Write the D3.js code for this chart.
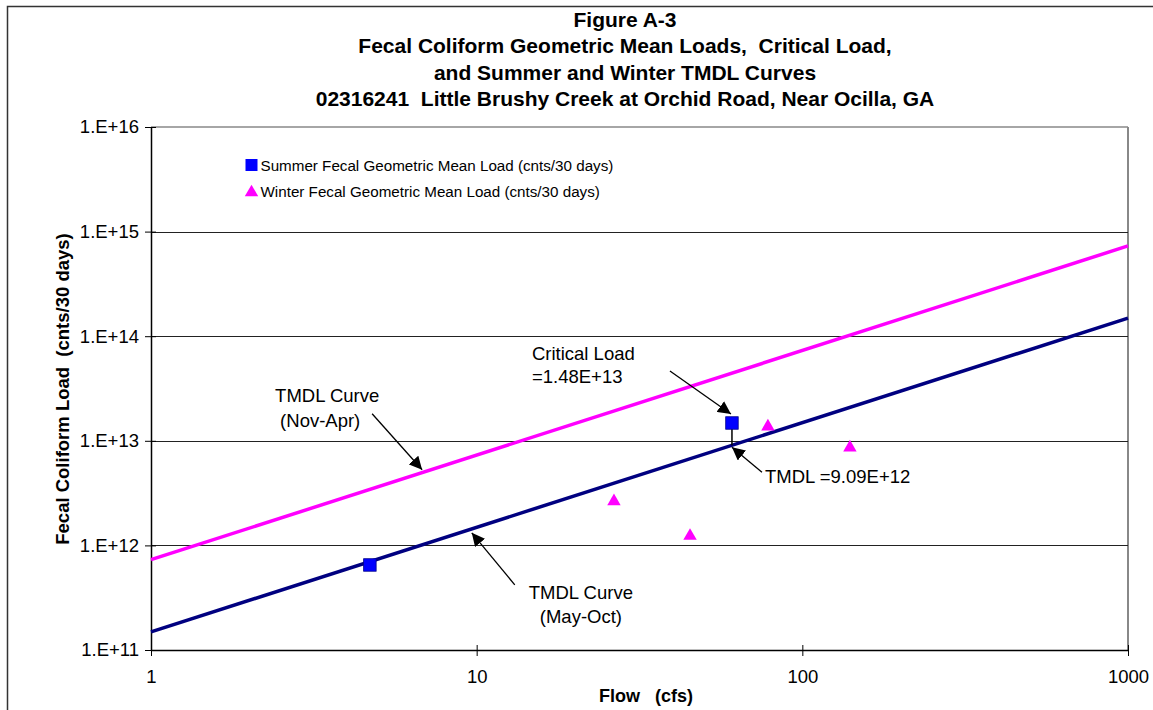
<!DOCTYPE html>
<html>
<head>
<meta charset="utf-8">
<script src="https://cdn.jsdelivr.net/npm/d3@7"></script>
<style>
  body { margin: 0; background: #fff; }
  text { font-family: "Liberation Sans", Arial, sans-serif; fill: #000; white-space: pre; }
</style>
</head>
<body>
<div id="chart"></div>
<script>
// chart values
const titleLines = ["Figure A-3", "Fecal Coliform Geometric Mean Loads,  Critical Load,",
  "and Summer and Winter TMDL Curves", "02316241  Little Brushy Creek at Orchid Road, Near Ocilla, GA"];
const xTicks = [1, 10, 100, 1000];
const yTicks = [1e11, 1e12, 1e13, 1e14, 1e15, 1e16];

const curveFlow = [1, 1000];
const winterTmdl = [7.3e11, 7.3e14];
const summerTmdl = [1.49e11, 1.49e14];

const summerFlow = [4.7, 60.8];
const summerLoad = [6.5e11, 1.48e13];
const winterFlow = [26.4, 45.2, 78.4, 140];
const winterLoad = [2.7e12, 1.26e12, 1.4e13, 8.8e12];

const criticalFlow = 60.8, criticalLoad = 1.48e13, tmdlLoad = 9.09e12;

let width = 1153, height = 710;
let margin = { top: 127, right: 25, bottom: 60, left: 151 };

let svg = d3.select("#chart").append("svg")
  .attr("width", width)
  .attr("height", height);

// arrowhead
svg.append("defs").append("marker")
  .attr("id", "arrow")
  .attr("viewBox", "0 0 10 10")
  .attr("refX", 10).attr("refY", 5)
  .attr("markerWidth", 13).attr("markerHeight", 13)
  .attr("markerUnits", "userSpaceOnUse")
  .attr("orient", "auto")
  .append("path").attr("d", "M0,0 L10,5 L0,10 Z").attr("fill", "#000");

// outer chart border
svg.append("rect")
  .attr("x", 7.5).attr("y", 6.5)
  .attr("width", 1200).attr("height", 800)
  .attr("fill", "none").attr("stroke", "#333").attr("stroke-width", 1.5);

let x = d3.scaleLog().domain([1, 1000]).range([margin.left, 1128]);
let y = d3.scaleLog().domain([1e11, 1e16]).range([650, margin.top]);

// title
svg.append("g").selectAll("text").data(titleLines).join("text")
  .attr("x", 625).attr("y", (d, i) => 27 + i * 26.3)
  .attr("text-anchor", "middle")
  .style("font-size", "21px").style("font-weight", "bold")
  .text(d => d);

// plot border (top / right) and gridlines
svg.append("line").attr("x1", x(1)).attr("x2", x(1000)).attr("y1", y(1e16)).attr("y2", y(1e16))
  .attr("stroke", "#888").attr("stroke-width", 1.5);
svg.append("line").attr("x1", x(1000)).attr("x2", x(1000)).attr("y1", y(1e16)).attr("y2", y(1e11))
  .attr("stroke", "#888").attr("stroke-width", 2);
svg.append("g").selectAll("line").data(yTicks.slice(1, 5)).join("line")
  .attr("x1", x(1)).attr("x2", x(1000))
  .attr("y1", d => Math.round(y(d)) + 0.5).attr("y2", d => Math.round(y(d)) + 0.5)
  .attr("stroke", "#222").attr("stroke-width", 1);

// axes
let xAxis = d3.axisBottom(x).tickValues(xTicks).tickFormat(d3.format("d")).tickSizeInner(6).tickSizeOuter(0).tickPadding(14);
let yAxis = d3.axisLeft(y).tickValues(yTicks).tickFormat(d => "1.E+" + Math.round(Math.log10(d))).tickSizeInner(6).tickSizeOuter(0).tickPadding(6);

let gx = svg.append("g").attr("transform", "translate(0," + y(1e11) + ")").call(xAxis);
let gy = svg.append("g").attr("transform", "translate(" + x(1) + ",0)").call(yAxis);
[gx, gy].forEach(g => {
  g.select(".domain").attr("stroke", "#000").attr("stroke-width", 1.5);
  g.selectAll(".tick line").attr("stroke", "#000");
  g.selectAll(".tick text").style("font-size", "18.5px").attr("font-family", null);
});
gx.selectAll(".tick line").attr("y1", -5);
gy.selectAll(".tick line").attr("x1", 5);

// axis titles
svg.append("text")
  .attr("x", 646).attr("y", 702)
  .attr("text-anchor", "middle")
  .style("font-size", "18px").style("font-weight", "bold")
  .text("Flow   (cfs)");
svg.append("text")
  .attr("transform", "translate(69," + 389 + ") rotate(-90)")
  .attr("text-anchor", "middle")
  .style("font-size", "18.5px").style("font-weight", "bold")
  .text("Fecal Coliform Load  (cnts/30 days)");

// TMDL curves
let line = d3.line().x(d => x(d[0])).y(d => y(d[1]));
svg.append("path").datum(curveFlow.map((f, i) => [f, winterTmdl[i]]))
  .attr("d", line).attr("fill", "none").attr("stroke", "#FF00FF").attr("stroke-width", 3.5);
svg.append("path").datum(curveFlow.map((f, i) => [f, summerTmdl[i]]))
  .attr("d", line).attr("fill", "none").attr("stroke", "#000080").attr("stroke-width", 3.5);

// critical load drop line
svg.append("line")
  .attr("x1", x(criticalFlow)).attr("x2", x(criticalFlow))
  .attr("y1", y(criticalLoad)).attr("y2", y(tmdlLoad))
  .attr("stroke", "#000").attr("stroke-width", 1.5);

// data points
let sq = 12.5;
svg.append("g").selectAll("rect").data(summerFlow.map((f, i) => [f, summerLoad[i]])).join("rect")
  .attr("x", d => x(d[0]) - sq / 2).attr("y", d => y(d[1]) - sq / 2)
  .attr("width", sq).attr("height", sq)
  .attr("fill", "#0000FF").attr("stroke", "#00008a").attr("stroke-width", 0.8);
let tri = d3.symbol().type(d3.symbolTriangle).size(78);
svg.append("g").selectAll("path").data(winterFlow.map((f, i) => [f, winterLoad[i]])).join("path")
  .attr("d", tri)
  .attr("transform", d => "translate(" + x(d[0]) + "," + (y(d[1]) + 1) + ")")
  .attr("fill", "#FF00FF");

// legend
let legend = svg.append("g").attr("transform", "translate(251.5,165)");
legend.append("rect").attr("x", -6).attr("y", -6).attr("width", 12).attr("height", 12).attr("fill", "#0000FF");
legend.append("text").attr("x", 9).attr("y", 5.5).style("font-size", "15.2px")
  .text("Summer Fecal Geometric Mean Load (cnts/30 days)");
legend.append("path").attr("d", tri).attr("transform", "translate(0,27.5)").attr("fill", "#FF00FF");
legend.append("text").attr("x", 9).attr("y", 31.5).style("font-size", "15.2px")
  .text("Winter Fecal Geometric Mean Load (cnts/30 days)");

// annotations: arrow tip anchored on data, pixel offsets for tail and each text line [dx, dy]
let notes = [
  { flow: 60.8, load: 1.48e13, tip: [-1, -9], tail: [-62, -52],
    lines: [["Critical Load", -200, -63], ["=1.48E+13", -200, -40]] },
  { flow: 60.8, load: 9.09e12, tip: [0, 2], tail: [30, 27],
    lines: [["TMDL =9.09E+12", 33, 38]] },
  { flow: 6.8, load: 4.95e12, tip: [0, -3], tail: [-50, -59],
    lines: [["TMDL Curve", -147, -71], ["(Nov-Apr)", -142, -46]] },
  { flow: 9.66, load: 1.44e12, tip: [0, 4], tail: [43, 56],
    lines: [["TMDL Curve", 57, 70], ["(May-Oct)", 68, 94]] }
];
notes.forEach(n => {
  let px = x(n.flow), py = y(n.load);
  svg.append("line")
    .attr("x1", px + n.tail[0]).attr("y1", py + n.tail[1])
    .attr("x2", px + n.tip[0]).attr("y2", py + n.tip[1])
    .attr("stroke", "#000").attr("stroke-width", 1.3)
    .attr("marker-end", "url(#arrow)");
  svg.append("g").selectAll("text").data(n.lines).join("text")
    .attr("x", d => px + d[1]).attr("y", d => py + d[2])
    .style("font-size", "18.5px")
    .text(d => d[0]);
});
</script>
</body>
</html>
